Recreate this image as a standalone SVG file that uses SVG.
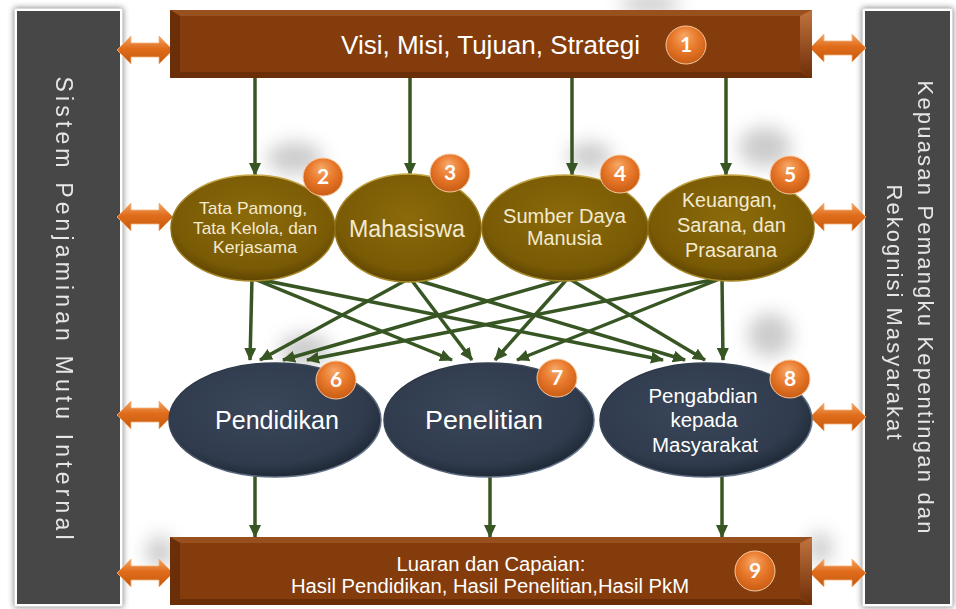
<svg xmlns="http://www.w3.org/2000/svg" xmlns:xlink="http://www.w3.org/1999/xlink" width="956" height="609" viewBox="0 0 956 609">
<defs>
<style>
.t{font-family:"Liberation Sans",Arial,sans-serif;text-anchor:middle}
.cream{fill:#f3ead0}
.wh{fill:#ffffff}
.side{font-family:"Liberation Sans",Arial,sans-serif;fill:#e6e6e6;text-anchor:middle}
.num{font-family:Lato,"Open Sans",sans-serif;font-weight:bold;font-size:21px;fill:#ffffff;text-anchor:middle}
.conn{stroke:#375623;stroke-width:3.5;fill:none}
</style>
<filter id="blur" x="-50%" y="-50%" width="200%" height="200%"><feGaussianBlur stdDeviation="9"/></filter>
<filter id="ds" x="-20%" y="-20%" width="140%" height="140%"><feGaussianBlur in="SourceAlpha" stdDeviation="3"/><feComponentTransfer><feFuncA type="linear" slope="0.5"/></feComponentTransfer><feMerge><feMergeNode/><feMergeNode in="SourceGraphic"/></feMerge></filter>
<marker id="ah" markerUnits="userSpaceOnUse" markerWidth="14" markerHeight="12" refX="12" refY="6" orient="auto"><path d="M0,0 L13,6 L0,12 Z" fill="#375623"/></marker>
<radialGradient id="gOlive" cx="50%" cy="40%" r="60%"><stop offset="0" stop-color="#8a6a0a"/><stop offset="0.8" stop-color="#7a5b05"/><stop offset="1" stop-color="#5e4502"/></radialGradient>
<linearGradient id="sOlive" x1="0" y1="0" x2="0" y2="1"><stop offset="0" stop-color="#c9ab4a"/><stop offset="0.5" stop-color="#8a6a10"/><stop offset="1" stop-color="#a88a2a"/></linearGradient>
<radialGradient id="gNavy" cx="45%" cy="40%" r="60%"><stop offset="0" stop-color="#3a4659"/><stop offset="0.8" stop-color="#303c4e"/><stop offset="1" stop-color="#202a38"/></radialGradient>
<linearGradient id="sNavy" x1="0" y1="0" x2="1" y2="1"><stop offset="0" stop-color="#1e2734"/><stop offset="1" stop-color="#7888a0"/></linearGradient>
<radialGradient id="gBadge" cx="50%" cy="40%" r="60%" fx="45%" fy="25%"><stop offset="0" stop-color="#f6a868"/><stop offset="0.55" stop-color="#e8782a"/><stop offset="1" stop-color="#c95d14"/></radialGradient>
<linearGradient id="gArrow" x1="0" y1="0" x2="0" y2="1"><stop offset="0" stop-color="#f2a566"/><stop offset="0.45" stop-color="#e06c1a"/><stop offset="1" stop-color="#c45a10"/></linearGradient>
<linearGradient id="gBevR" x1="0" y1="0" x2="0" y2="1"><stop offset="0" stop-color="#c0733e"/><stop offset="1" stop-color="#6e2e08"/></linearGradient>
<path id="dbl" d="M-28,0 L-14,-14 L-14,-7 L14,-7 L14,-14 L28,0 L14,14 L14,7 L-14,7 L-14,14 Z" fill="url(#gArrow)" stroke="#f5b27a" stroke-width="0.8"/>
</defs>
<rect x="0" y="0" width="956" height="609" fill="#ffffff"/>

<!-- soft shadows -->
<g fill="#808080" opacity="0.4" filter="url(#blur)">
<ellipse cx="650" cy="4" rx="30" ry="10"/>
<ellipse cx="295" cy="158" rx="28" ry="16"/>
<ellipse cx="590" cy="156" rx="22" ry="14"/>
<ellipse cx="765" cy="147" rx="26" ry="20"/>
<ellipse cx="305" cy="350" rx="26" ry="16"/>
<ellipse cx="770" cy="335" rx="22" ry="22"/>
<ellipse cx="160" cy="552" rx="14" ry="16"/>
<ellipse cx="820" cy="548" rx="12" ry="16"/>
</g>

<!-- side panels -->
<g id="panel-left" filter="url(#ds)">
<rect x="14.5" y="8.5" width="108" height="598" fill="#ffffff" stroke="#d8d8d8" stroke-width="1"/>
<rect x="17" y="11" width="103" height="593" fill="#474747"/>
<text class="side" style="font-size:23px" transform="translate(56,308) rotate(90)" textLength="463" lengthAdjust="spacing">Sistem Penjaminan Mutu Internal</text>
</g>
<g id="panel-right" filter="url(#ds)">
<rect x="862.5" y="8.5" width="90" height="598" fill="#ffffff" stroke="#d8d8d8" stroke-width="1"/>
<rect x="865" y="11" width="85" height="593" fill="#474747"/>
<text class="side" style="font-size:22px" transform="translate(918,307) rotate(90)" textLength="453" lengthAdjust="spacing">Kepuasan Pemangku Kepentingan dan</text>
<text class="side" style="font-size:22px" transform="translate(887,312) rotate(90)" textLength="255" lengthAdjust="spacing">Rekognisi Masyarakat</text>
</g>

<!-- connectors -->
<g id="connectors" class="conn" marker-end="url(#ah)">
<path d="M255,78 V175"/>
<path d="M410,78 V175"/>
<path d="M572,78 V175"/>
<path d="M726,78 V175"/>
<path d="M252,278 L250,360"/>
<path d="M252,278 L452,360"/>
<path d="M252,278 L663,360"/>
<path d="M410,278 L260,360"/>
<path d="M410,278 L472,360"/>
<path d="M410,278 L685,360"/>
<path d="M568,278 L283,360"/>
<path d="M568,278 L495,360"/>
<path d="M568,278 L705,360"/>
<path d="M722,278 L307,360"/>
<path d="M722,278 L517,360"/>
<path d="M722,278 L723,360"/>
<path d="M255,476 V537"/>
<path d="M490,476 V537"/>
<path d="M722,476 V537"/>
</g>

<!-- double arrows -->
<g id="links">
<use xlink:href="#dbl" href="#dbl" x="145" y="50"/>
<use xlink:href="#dbl" href="#dbl" x="145" y="217"/>
<use xlink:href="#dbl" href="#dbl" x="145" y="415"/>
<use xlink:href="#dbl" href="#dbl" x="145" y="573"/>
<use xlink:href="#dbl" href="#dbl" x="838" y="48"/>
<use xlink:href="#dbl" href="#dbl" x="838" y="217"/>
<use xlink:href="#dbl" href="#dbl" x="838" y="417"/>
<use xlink:href="#dbl" href="#dbl" x="838" y="573"/>
</g>

<!-- top box -->
<g id="n1">
<rect x="170" y="10" width="642" height="68" fill="#843c0c"/>
<polygon points="170,10 812,10 802,16 180,16" fill="#98501e"/>
<polygon points="170,10 180,16 180,72 170,78" fill="#6a2e08"/>
<polygon points="812,10 812,78 800,70 800,16" fill="url(#gBevR)"/>
<polygon points="170,78 812,78 800,72 180,72" fill="#6a2e08"/>
<text class="t wh" x="490.5" y="54" font-size="25" textLength="299" lengthAdjust="spacingAndGlyphs">Visi, Misi, Tujuan, Strategi</text>
<ellipse cx="686" cy="45" rx="20" ry="19" fill="url(#gBadge)" stroke="#f7c9a0" stroke-width="1"/>
<text class="num" x="686" y="52">1</text>
</g>

<!-- row 2 -->
<g id="n2">
<ellipse cx="253" cy="228" rx="82" ry="53" fill="url(#gOlive)" stroke="url(#sOlive)" stroke-width="1.5"/>
<text class="t cream" font-size="17" x="253" y="214" textLength="108" lengthAdjust="spacingAndGlyphs">Tata Pamong,</text>
<text class="t cream" font-size="17" x="255" y="234" textLength="124" lengthAdjust="spacingAndGlyphs">Tata Kelola, dan</text>
<text class="t cream" font-size="17" x="255" y="253" textLength="84" lengthAdjust="spacingAndGlyphs">Kerjasama</text>
<ellipse cx="323" cy="177" rx="20" ry="19" fill="url(#gBadge)" stroke="#f7c9a0" stroke-width="1"/>
<text class="num" x="323" y="184">2</text>
</g>
<g id="n3">
<ellipse cx="408" cy="228" rx="73" ry="54" fill="url(#gOlive)" stroke="url(#sOlive)" stroke-width="1.5"/>
<text class="t cream" font-size="23" x="407" y="237" textLength="116" lengthAdjust="spacingAndGlyphs">Mahasiswa</text>
<ellipse cx="450" cy="173" rx="20" ry="19" fill="url(#gBadge)" stroke="#f7c9a0" stroke-width="1"/>
<text class="num" x="450" y="180">3</text>
</g>
<g id="n4">
<ellipse cx="565" cy="228" rx="83" ry="53" fill="url(#gOlive)" stroke="url(#sOlive)" stroke-width="1.5"/>
<text class="t cream" font-size="20" x="564.5" y="223" textLength="123" lengthAdjust="spacingAndGlyphs">Sumber Daya</text>
<text class="t cream" font-size="20" x="564.5" y="245" textLength="75" lengthAdjust="spacingAndGlyphs">Manusia</text>
<ellipse cx="620" cy="174" rx="20" ry="19" fill="url(#gBadge)" stroke="#f7c9a0" stroke-width="1"/>
<text class="num" x="620" y="181">4</text>
</g>
<g id="n5">
<ellipse cx="731" cy="228" rx="83" ry="53" fill="url(#gOlive)" stroke="url(#sOlive)" stroke-width="1.5"/>
<text class="t cream" font-size="20" x="729.5" y="207" textLength="95" lengthAdjust="spacingAndGlyphs">Keuangan,</text>
<text class="t cream" font-size="20" x="731.5" y="232" textLength="109" lengthAdjust="spacingAndGlyphs">Sarana, dan</text>
<text class="t cream" font-size="20" x="731" y="257" textLength="92" lengthAdjust="spacingAndGlyphs">Prasarana</text>
<ellipse cx="790" cy="175" rx="20" ry="19" fill="url(#gBadge)" stroke="#f7c9a0" stroke-width="1"/>
<text class="num" x="790" y="182">5</text>
</g>

<!-- row 3 -->
<g id="n6">
<ellipse cx="275" cy="420" rx="106" ry="57" fill="url(#gNavy)" stroke="url(#sNavy)" stroke-width="1.5"/>
<text class="t wh" font-size="25" x="277" y="429" textLength="124" lengthAdjust="spacingAndGlyphs">Pendidikan</text>
<ellipse cx="336" cy="380" rx="20" ry="19" fill="url(#gBadge)" stroke="#f7c9a0" stroke-width="1"/>
<text class="num" x="336" y="387">6</text>
</g>
<g id="n7">
<ellipse cx="489" cy="420" rx="105" ry="57" fill="url(#gNavy)" stroke="url(#sNavy)" stroke-width="1.5"/>
<text class="t wh" font-size="25" x="484" y="429" textLength="118" lengthAdjust="spacingAndGlyphs">Penelitian</text>
<ellipse cx="557" cy="378" rx="20" ry="19" fill="url(#gBadge)" stroke="#f7c9a0" stroke-width="1"/>
<text class="num" x="557" y="385">7</text>
</g>
<g id="n8">
<ellipse cx="706" cy="420" rx="106" ry="57" fill="url(#gNavy)" stroke="url(#sNavy)" stroke-width="1.5"/>
<text class="t wh" font-size="20" x="703" y="403" textLength="109" lengthAdjust="spacingAndGlyphs">Pengabdian</text>
<text class="t wh" font-size="20" x="704" y="427" textLength="67" lengthAdjust="spacingAndGlyphs">kepada</text>
<text class="t wh" font-size="20" x="705" y="452" textLength="106" lengthAdjust="spacingAndGlyphs">Masyarakat</text>
<ellipse cx="790" cy="379" rx="20" ry="19" fill="url(#gBadge)" stroke="#f7c9a0" stroke-width="1"/>
<text class="num" x="790" y="386">8</text>
</g>

<!-- bottom box -->
<g id="n9">
<rect x="170" y="537" width="642" height="68" fill="#843c0c"/>
<polygon points="170,537 812,537 802,543 180,543" fill="#98501e"/>
<polygon points="170,537 180,543 180,599 170,605" fill="#6a2e08"/>
<polygon points="812,537 812,605 800,597 800,543" fill="url(#gBevR)"/>
<polygon points="170,605 812,605 800,599 180,599" fill="#6a2e08"/>
<text class="t wh" font-size="20" x="491" y="571" textLength="189" lengthAdjust="spacingAndGlyphs">Luaran dan Capaian:</text>
<text class="t wh" font-size="20" x="490" y="593" textLength="398" lengthAdjust="spacingAndGlyphs">Hasil Pendidikan, Hasil Penelitian,Hasil PkM</text>
<ellipse cx="755" cy="571" rx="20" ry="20" fill="url(#gBadge)" stroke="#f7c9a0" stroke-width="1"/>
<text class="num" x="755" y="578">9</text>
</g>
</svg>
